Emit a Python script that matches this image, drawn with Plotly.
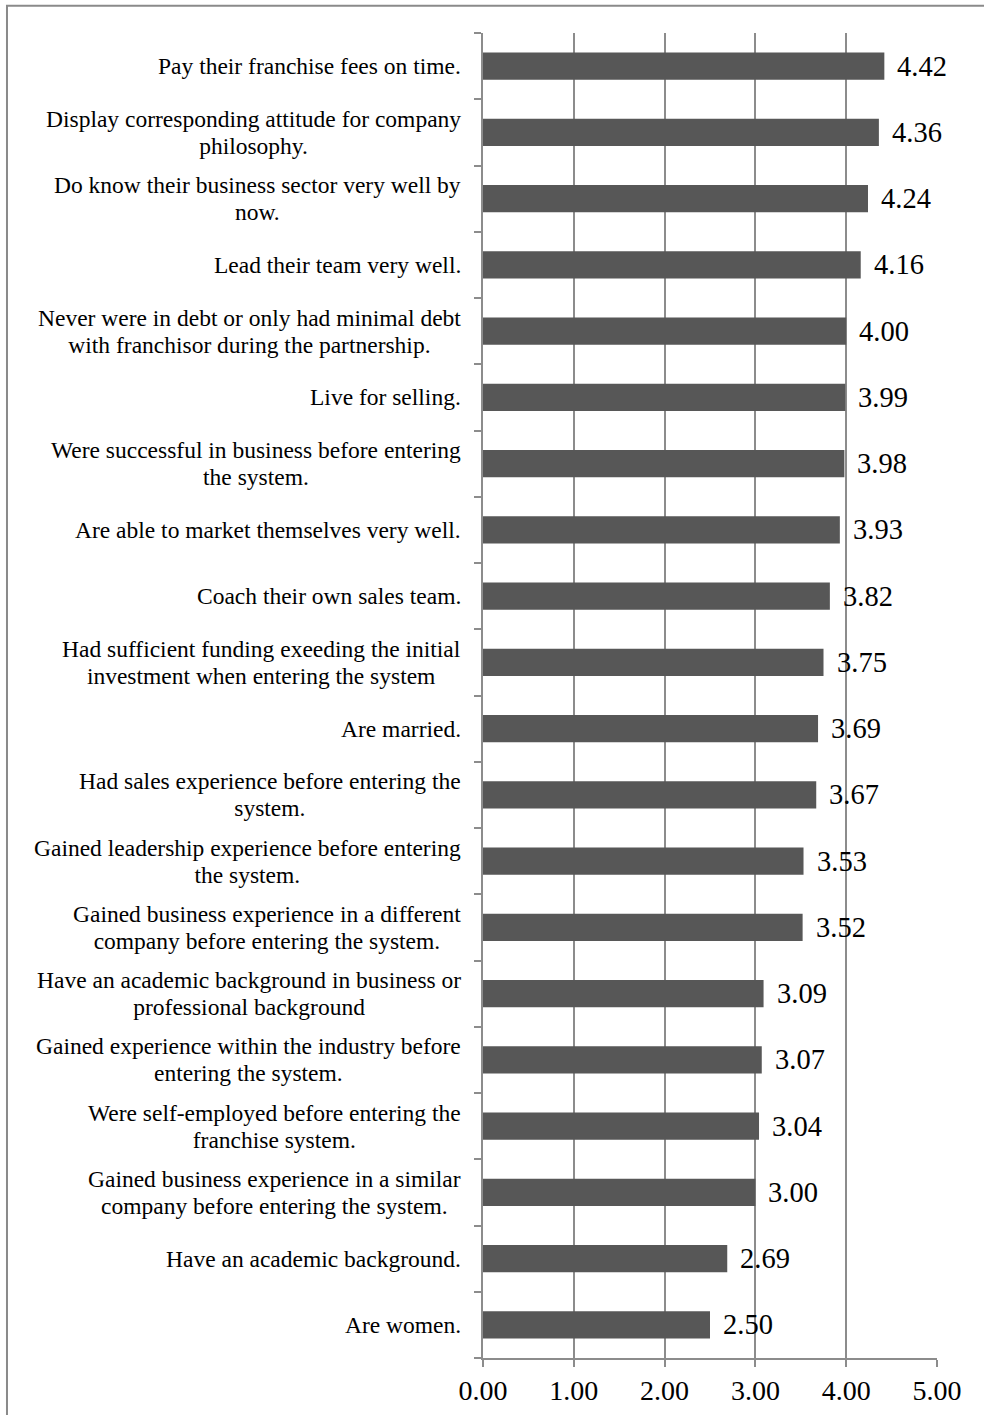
import plotly.graph_objects as go

categories = [
    "Pay their franchise fees on time.",
    "Display corresponding attitude for company<br>philosophy.",
    "Do know their business sector very well by<br>now.",
    "Lead their team very well.",
    "Never were in debt or only had minimal debt<br>with franchisor during the partnership.",
    "Live for selling.",
    "Were successful in business before entering<br>the system.",
    "Are able to market themselves very well.",
    "Coach their own sales team.",
    "Had sufficient funding exeeding the initial<br>investment when entering the system",
    "Are married.",
    "Had sales experience before entering the<br>system.",
    "Gained leadership experience before entering<br>the system.",
    "Gained business experience in a different<br>company before entering the system.",
    "Have an academic background in business or<br>professional background",
    "Gained experience within the industry before<br>entering the system.",
    "Were self-employed before entering the<br>franchise system.",
    "Gained business experience in a similar<br>company before entering the system.",
    "Have an academic background.",
    "Are women.",
]
values = [4.42, 4.36, 4.24, 4.16, 4.00, 3.99, 3.98, 3.93, 3.82, 3.75,
          3.69, 3.67, 3.53, 3.52, 3.09, 3.07, 3.04, 3.00, 2.69, 2.50]
x_ticks = [0, 1, 2, 3, 4, 5]
x_tick_labels = ["0.00", "1.00", "2.00", "3.00", "4.00", "5.00"]

FONT = "Liberation Serif, Times New Roman, serif"
ids = list(range(len(categories)))


def styled(label):
    return "<br>".join(f'<span style="font-size:23.5px">{part}</span>'
                       for part in label.split("<br>"))


fig = go.Figure()
fig.add_trace(go.Bar(
    y=ids, x=values, orientation="h",
    marker=dict(color="#575757", line=dict(width=0)),
    width=0.41, showlegend=False, hoverinfo="skip",
))

annotations = []
for i, (c, v) in enumerate(zip(categories, values)):
    annotations.append(dict(
        x=0, xref="paper", y=i, yref="y", text=styled(c), showarrow=False,
        xanchor="right", yanchor="middle", align="center", xshift=-20,
        font=dict(family=FONT, size=21, color="#000"),
    ))
    annotations.append(dict(
        x=v, xref="x", y=i, yref="y", text=f"{v:.2f}", showarrow=False,
        xanchor="left", yanchor="middle", xshift=11,
        font=dict(family=FONT, size=28.5, color="#000"),
    ))

fig.update_layout(
    width=984, height=1415,
    margin=dict(l=483, r=47, t=33, b=57, autoexpand=False),
    paper_bgcolor="white", plot_bgcolor="white",
    annotations=annotations,
    shapes=[dict(type="rect", xref="paper", yref="paper",
                 x0=-1.0485, x1=1.3, y0=-0.1, y1=1.0205,
                 line=dict(color="#8a8a8a", width=2), layer="below")],
    xaxis=dict(
        range=[0, 5], tickvals=x_ticks, ticktext=x_tick_labels,
        showgrid=True, gridcolor="#8c8c8c", gridwidth=1.5,
        showline=True, linecolor="#8c8c8c", linewidth=1.5,
        ticks="outside", ticklen=7, tickcolor="#8c8c8c", tickwidth=1.5,
        tickfont=dict(family=FONT, size=28, color="#000"),
        zeroline=False,
    ),
    yaxis=dict(
        tickvals=ids, range=[len(ids) - 0.5, -0.5],
        showticklabels=False, showgrid=False, zeroline=False,
        showline=True, linecolor="#8c8c8c", linewidth=1.5,
        ticks="",
    ),
)

fig.update_yaxes(minor=dict(tickvals=[i - 0.5 for i in range(len(ids) + 1)],
                            ticks="outside", ticklen=7, tickcolor="#8c8c8c",
                            tickwidth=1.5, showgrid=False))

fig.write_html("out.html")
